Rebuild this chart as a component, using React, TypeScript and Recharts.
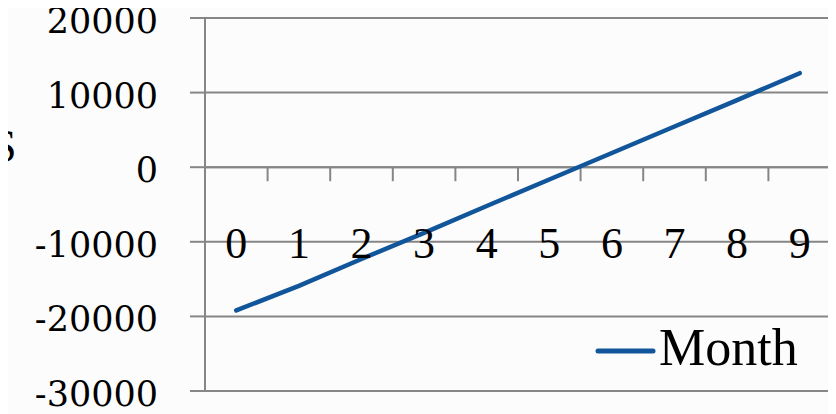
import React from 'react';
import {
  LineChart,
  Line,
  XAxis,
  YAxis,
  CartesianGrid,
  ReferenceLine,
  Legend,
} from 'recharts';

const months = ['0', '1', '2', '3', '4', '5', '6', '7', '8', '9'];
const monthValues = [-19200, -15900, -12300, -8800, -5200, -1650, 1900, 5450, 9000, 12600];
const yTicks = [-30000, -20000, -10000, 0, 10000, 20000];
const seriesName = 'Month';
const axisTitle = 'S';

const data = months.map((m, i) => ({ month: m, value: monthValues[i] }));

const GRID = '#868686';
const LINE = '#11559A';
const SERIF = '"Liberation Serif", "Times New Roman", serif';
const YFONT = '"DejaVu Serif", serif';

const YTick = (props: any) => {
  const { x, y, payload } = props;
  return (
    <text x={x} y={y} dy={15} textAnchor="end" fontFamily={YFONT} fontSize={35} fill="#000">
      {payload.value}
    </text>
  );
};

const XTick = (props: any) => {
  const { x, y, payload } = props;
  return (
    <text x={x} y={y} dy={-133} textAnchor="middle" fontFamily={SERIF} fontSize={44} fill="#000">
      {payload.value}
    </text>
  );
};

const ZeroAxisTicks = (props: any) => {
  const vb = props.viewBox || {};
  const n = months.length;
  const step = vb.width / n;
  return (
    <g>
      {months.map((m, i) => (
        <line
          key={m}
          x1={vb.x + (i + 1) * step}
          x2={vb.x + (i + 1) * step}
          y1={vb.y}
          y2={vb.y + 14}
          stroke={GRID}
          strokeWidth={2}
        />
      ))}
    </g>
  );
};

const TitleLabel = (props: any) => {
  return (
    <text x={-9} y={162} textAnchor="start" fontFamily={SERIF} fontSize={46} fill="#000">
      {axisTitle}
    </text>
  );
};

const LegendContent = (props: any) => {
  const item = (props.payload && props.payload[0]) || { value: seriesName, color: LINE };
  return (
    <svg width={240} height={60} style={{ display: 'block', overflow: 'visible' }}>
      <line x1={8} x2={63} y1={26} y2={26} stroke={item.color} strokeWidth={5} strokeLinecap="round" />
      <text x={69} y={40} fontFamily={SERIF} fontSize={52} fill="#000">
        {item.value}
      </text>
    </svg>
  );
};

export default function App() {
  return (
    <div
      style={{
        position: 'relative',
        overflow: 'hidden',
        margin: '-8px 0 0 -8px',
        width: 836,
        height: 414,
        background: '#fcfcfc',
      }}
    >
      <LineChart
        width={836}
        height={414}
        data={data}
        margin={{ top: 18, right: 5, bottom: 22, left: 0 }}
      >
        <CartesianGrid horizontal vertical={false} stroke={GRID} strokeWidth={2} strokeDasharray="" />
        <XAxis
          dataKey="month"
          scale="band"
          height={1}
          axisLine={false}
          tickLine={false}
          tickSize={0}
          tickMargin={0}
          interval={0}
          tick={<XTick />}
        />
        <YAxis
          width={205}
          domain={[-30000, 20000]}
          ticks={yTicks}
          interval={0}
          tickSize={15}
          tickMargin={32}
          axisLine={{ stroke: GRID, strokeWidth: 2 }}
          tickLine={{ stroke: GRID, strokeWidth: 2 }}
          tick={<YTick />}
          label={<TitleLabel />}
        />
        <ReferenceLine y={0} stroke={GRID} strokeWidth={2} label={<ZeroAxisTicks />} />
        <Line
          type="linear"
          dataKey="value"
          name={seriesName}
          stroke={LINE}
          strokeWidth={4.5}
          strokeLinecap="round"
          dot={false}
          activeDot={false}
          isAnimationActive={false}
        />
        <Legend
          layout="vertical"
          align="center"
          verticalAlign="middle"
          content={<LegendContent />}
          wrapperStyle={{ position: 'absolute', left: 590, top: 325, width: 240, height: 60 }}
        />
      </LineChart>
    </div>
  );
}
